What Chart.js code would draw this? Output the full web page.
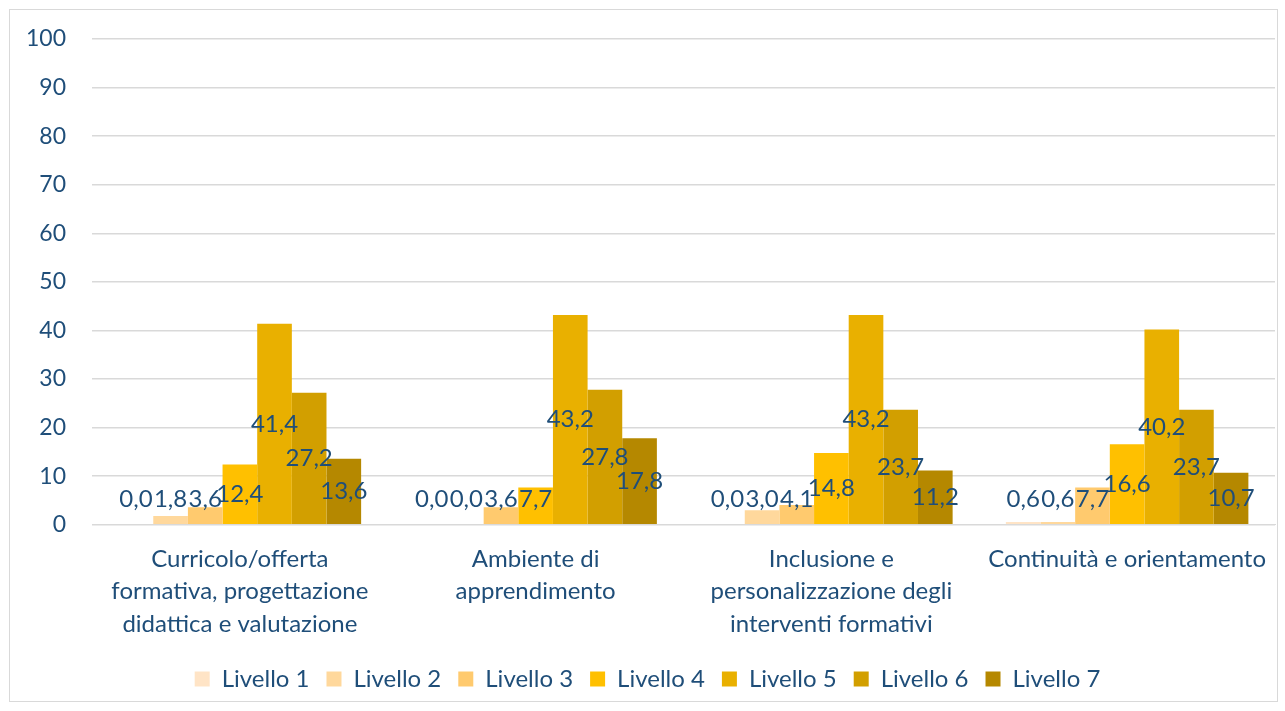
<!DOCTYPE html>
<html>
<head>
<meta charset="utf-8">
<script src="https://cdn.jsdelivr.net/npm/chart.js@4.4.1/dist/chart.umd.min.js"></script>
<style>
  html, body { margin: 0; padding: 0; background: #fff; }
  #wrap {
    position: absolute; left: 9px; top: 9px;
    width: 1269px; height: 693px;
    border: 1px solid #d9d9d9; box-sizing: border-box;
  }
  #wrap canvas { display: block; }
</style>
</head>
<body>
<div id="wrap"><canvas id="chart"></canvas></div>
<script>
/* ── Data ── */
const categories = [
  ["Curricolo/offerta", "formativa, progettazione", "didattica e valutazione"],
  ["Ambiente di", "apprendimento"],
  ["Inclusione e", "personalizzazione degli", "interventi formativi"],
  ["Continuità e orientamento"],
];

const seriesNames = ["Livello 1", "Livello 2", "Livello 3", "Livello 4", "Livello 5", "Livello 6", "Livello 7"];

const livello1 = [0.0, 0.0, 0.0, 0.6];
const livello2 = [1.8, 0.0, 3.0, 0.6];
const livello3 = [3.6, 3.6, 4.1, 7.7];
const livello4 = [12.4, 7.7, 14.8, 16.6];
const livello5 = [41.4, 43.2, 43.2, 40.2];
const livello6 = [27.2, 27.8, 23.7, 23.7];
const livello7 = [13.6, 17.8, 11.2, 10.7];

const yTicks = [0, 10, 20, 30, 40, 50, 60, 70, 80, 90, 100];

const colors = ["#FFE4C6", "#FFD89C", "#FFCA6E", "#FFC000", "#E9B000", "#D29F00", "#B58800"];
const TEXT = "#1F4E79";
const FONT = "Lato, 'Open Sans', sans-serif";

// ── Centered data labels, kept above the axis like Excel does ──
const centerLabels = {
  id: "centerLabels",
  afterDatasetsDraw(chart) {
    const { ctx } = chart;
    const axisY = chart.scales.y.getPixelForValue(0);
    ctx.save();
    ctx.font = `24px ${FONT}`;
    ctx.fillStyle = TEXT;
    ctx.textAlign = "center";
    ctx.textBaseline = "middle";
    chart.data.datasets.forEach((ds, i) => {
      chart.getDatasetMeta(i).data.forEach((bar, j) => {
        const mid = (bar.y + bar.base) / 2;
        const y = Math.min(mid, axisY - 26);
        ctx.fillText(ds.data[j].toFixed(1).replace(".", ","), bar.x, y);
      });
    });
    ctx.restore();
  },
};

const datasets = [livello1, livello2, livello3, livello4, livello5, livello6, livello7].map((d, i) => ({
  label: seriesNames[i],
  data: d,
  backgroundColor: colors[i],
  borderWidth: 0,
  barPercentage: 1.0,
  categoryPercentage: 0.82,
}));

new Chart(document.getElementById("chart"), {
  type: "bar",
  data: { labels: categories, datasets },
  options: {
    responsive: true,
    maintainAspectRatio: false,
    animation: false,
    layout: { padding: { left: 10, right: 2, top: 29, bottom: 0 } },
    plugins: {
      legend: {
        position: "bottom",
        labels: {
          color: TEXT,
          font: { family: FONT, size: 24 },
          boxWidth: 15,
          boxHeight: 15,
          padding: 17,
        },
      },
      tooltip: { enabled: false },
    },
    scales: {
      x: {
        afterFit(axis) { axis.paddingTop = 0; },
        grid: { display: false },
        border: { color: "#d9d9d9", width: 1 },
        ticks: {
          color: TEXT,
          font: { family: FONT, size: 24, lineHeight: 1.35 },
          maxRotation: 0,
          autoSkip: false,
          padding: 10,
        },
      },
      y: {
        min: 0,
        max: 100,
        afterBuildTicks(axis) { axis.ticks = yTicks.map((v) => ({ value: v })); },
        afterFit(axis) { axis.width = 72; axis.paddingTop = 0; },
        grid: { color: "#d9d9d9", lineWidth: 1.5, drawTicks: false },
        border: { display: false },
        ticks: {
          color: TEXT,
          font: { family: FONT, size: 23 },
          padding: 26,
        },
      },
    },
  },
  plugins: [centerLabels],
});
</script>
</body>
</html>
